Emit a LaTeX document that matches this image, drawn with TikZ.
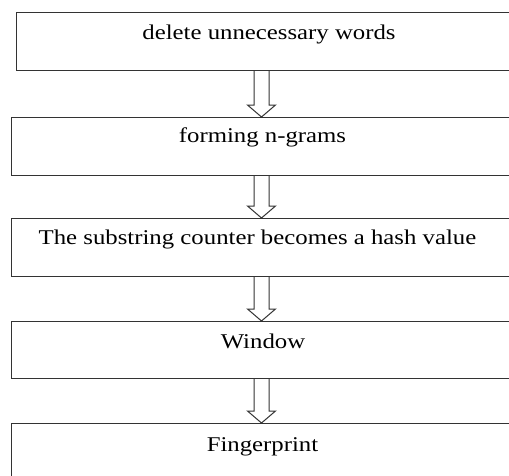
\documentclass[tikz,border=0pt]{standalone}
\usepackage{fontspec}
\setmainfont{Liberation Serif}[FakeStretch=1.18]
\usetikzlibrary{calc}
\tikzset{
  stagebox/.style={draw=black!80, line width=1.2pt, rectangle, inner sep=0pt, anchor=north west, minimum width=540pt},
  stagetext/.style={anchor=base, inner sep=0pt, font=\fontsize{21}{25}\selectfont},
  flow/.style={draw=black!80, line width=1pt, line join=miter},
}
% hollow block arrow from the bottom of one box to the top of the next
\newcommand\flowarrow[2]{%
  \draw[flow] let \p1=(axis |- #1.south), \p2=(axis |- #2.north) in
    (\x1-7.5pt,\y1) -- (\x1-7.5pt,\y2+12pt) -- (\x1-14pt,\y2+12pt) -- (\x1,\y2)
    -- (\x1+14pt,\y2+12pt) -- (\x1+7.5pt,\y2+12pt) -- (\x1+7.5pt,\y1);}
\begin{document}
\begin{tikzpicture}[x=1pt,y=-1pt]
  \useasboundingbox (0,0) rectangle (509,475);
  \clip (0,0) rectangle (509,475);
  \coordinate (axis) at (261.5,0);

  \node[stagebox, minimum height=58pt] (b1) at (16,12) {};
  \node[stagebox, minimum height=58pt] (b2) at (11,117) {};
  \node[stagebox, minimum height=58pt] (b3) at (11,218) {};
  \node[stagebox, minimum height=57pt] (b4) at (11,321) {};
  \node[stagebox, minimum height=70pt] (b5) at (11,423) {};

  \node[stagetext] (t1) at (269,39) {delete unnecessary words};
  \node[stagetext] (t2) at (262.5,142) {forming n-grams};
  \node[stagetext] (t3) at (257.5,244) {The substring counter becomes a hash value};
  \node[stagetext] (t4) at (263,348) {Window};
  \node[stagetext] (t5) at (262.5,451) {Fingerprint};

  \flowarrow{b1}{b2}
  \flowarrow{b2}{b3}
  \flowarrow{b3}{b4}
  \flowarrow{b4}{b5}
\end{tikzpicture}
\end{document}
